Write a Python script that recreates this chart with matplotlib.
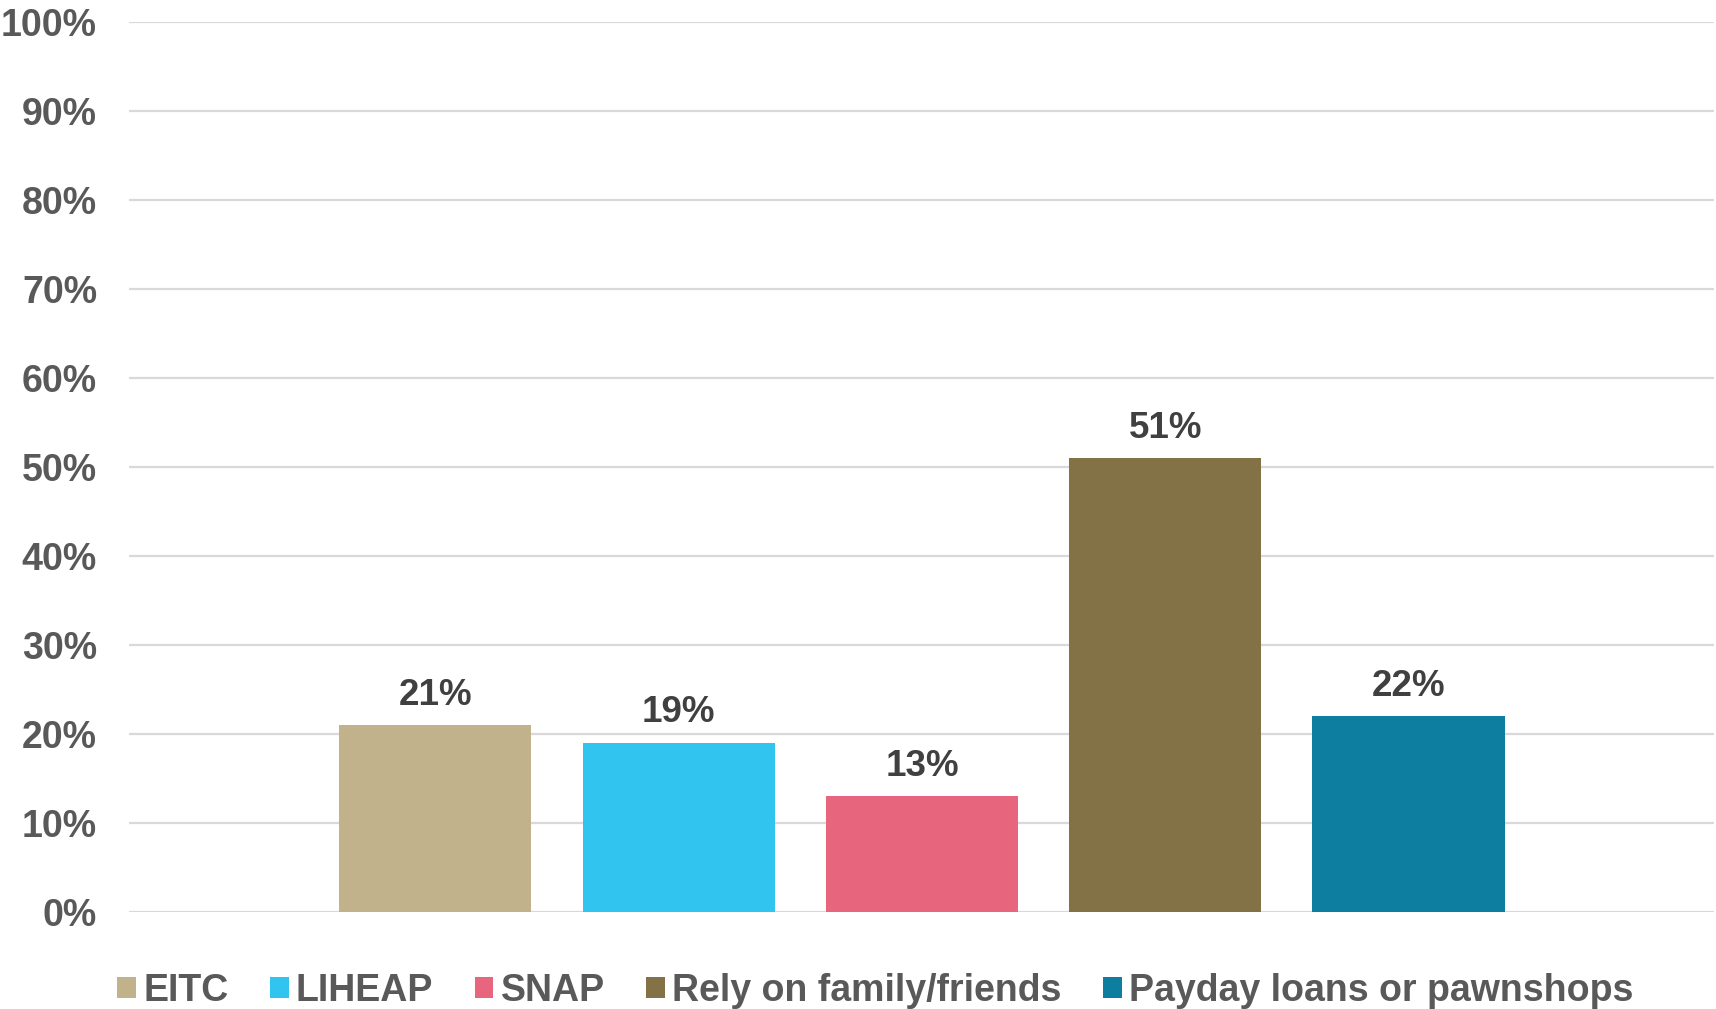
import matplotlib.pyplot as plt
from matplotlib.ticker import FuncFormatter

plt.rcParams['font.family'] = ['Liberation Sans', 'DejaVu Sans']

# share of respondents using each resource
resources = ["EITC", "LIHEAP", "SNAP", "Rely on family/friends", "Payday loans or pawnshops"]
shares = [21, 19, 13, 51, 22]
colors = ["#C1B28C", "#31C4EE", "#E8657E", "#837246", "#0D7E9F"]
y_ticks = [0, 10, 20, 30, 40, 50, 60, 70, 80, 90, 100]

fig = plt.figure(figsize=(17.16, 10.09), dpi=100)
ax = fig.add_axes([0.0752, 0.0961, 0.9236, 0.882])

x = list(range(len(resources)))
bars = ax.bar(x, shares, width=0.79, color=colors, label=resources, zorder=3)
ax.bar_label(bars, labels=[f"{v}%" for v in shares], padding=9,
             fontsize=26.5, fontweight="bold", color="#404040")

ax.set_xlim(-1.259, 5.255)
ax.set_ylim(0, 100)
ax.set_yticks(y_ticks)
ax.yaxis.set_major_formatter(FuncFormatter(lambda v, _: f"{v:.0f}%"))
ax.set_xticks([])
ax.grid(axis="y", color="#D9D9D9", linewidth=1.6, zorder=0)
ax.tick_params(axis="y", length=0, pad=23, labelsize=27, labelcolor="#595959")
for lbl in ax.get_yticklabels():
    lbl.set_fontweight("bold")
for side in ["top", "right", "left", "bottom"]:
    ax.spines[side].set_visible(False)

leg = fig.legend(handles=list(bars), labels=resources, loc="center left",
                 bbox_to_anchor=(117 / 1716, 18 / 1009), ncol=5, frameon=False,
                 fontsize=27, handlelength=0.5, handleheight=0.5,
                 handletextpad=0.2, columnspacing=1.1, borderpad=0, borderaxespad=0)
for t in leg.get_texts():
    t.set_fontweight("bold")
    t.set_color("#595959")

fig.savefig("out.png", dpi=100)
